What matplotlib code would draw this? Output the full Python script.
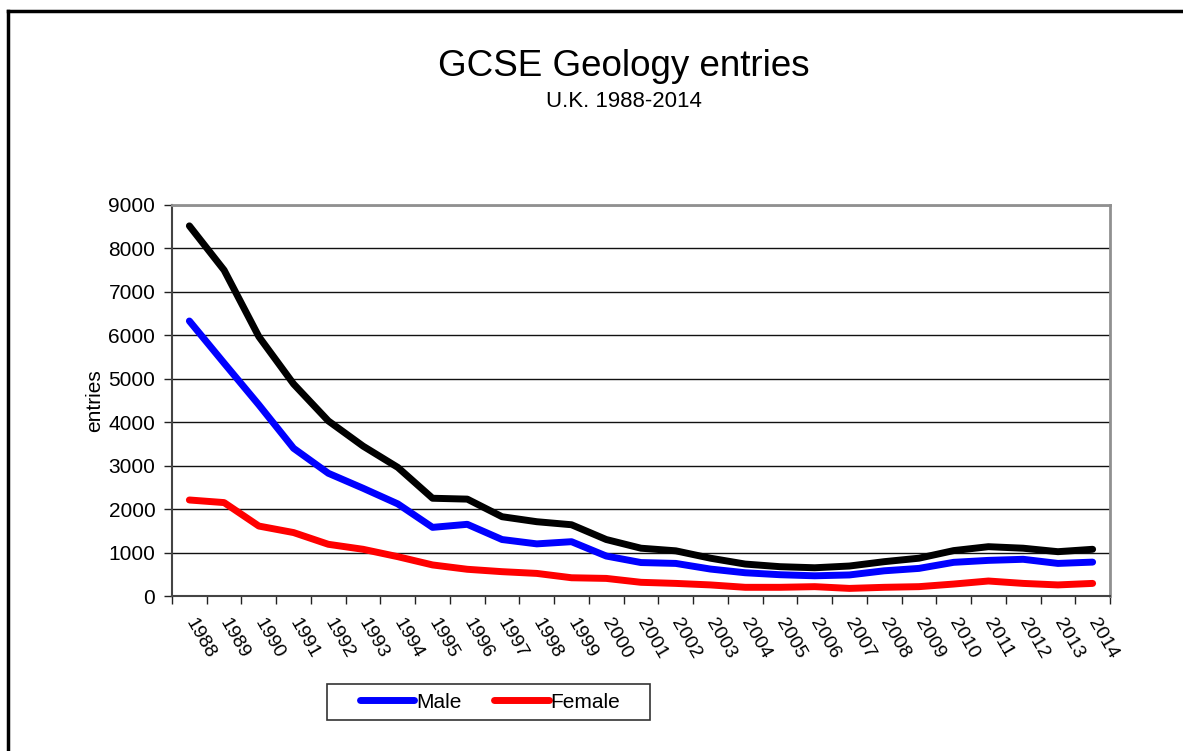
import matplotlib.pyplot as plt
import matplotlib.transforms as mtransforms
from matplotlib.lines import Line2D
from matplotlib.patches import Rectangle

plt.rcParams['font.family'] = ['Liberation Sans', 'DejaVu Sans']

years = [str(y) for y in range(1988, 2015)]

# entries
male = [6330, 5360, 4400, 3400, 2825, 2480, 2120, 1580, 1650, 1300, 1200, 1250, 920,
        770, 750, 620, 535, 490, 465, 485, 580, 635, 775, 820, 845, 750, 780]
female = [2210, 2150, 1610, 1460, 1190, 1075, 905, 715, 615, 560, 520, 420, 405,
          315, 290, 255, 200, 200, 215, 175, 200, 215, 275, 345, 290, 255, 290]
total = [8520, 7500, 5970, 4880, 4030, 3450, 2960, 2250, 2230, 1825, 1710, 1640, 1300,
         1100, 1040, 870, 735, 675, 650, 690, 790, 870, 1045, 1135, 1100, 1020, 1075]

W, H = 1183, 751
fig = plt.figure(figsize=(W / 100, H / 100), dpi=100)
ax = fig.add_axes([172 / W, 1 - 596 / H, (1110 - 172) / W, (596 - 205) / H])

x = list(range(len(years)))
ax.plot(x, total, color='black', linewidth=5, solid_capstyle='round', zorder=3)
male_line, = ax.plot(x, male, color='#0000FF', linewidth=5, solid_capstyle='round', zorder=3)
female_line, = ax.plot(x, female, color='#FF0000', linewidth=5, solid_capstyle='round', zorder=3)

ax.set_xlim(-0.5, len(years) - 0.5)
ax.set_ylim(0, 9000)
ax.set_yticks(range(0, 9001, 1000))
ax.tick_params(axis='y', labelsize=15, length=6, width=1, pad=6, direction='out',
               colors='#222222', labelcolor='black')
ax.yaxis.grid(True, color='#111111', linewidth=1)
ax.set_axisbelow(True)

# category labels at centres, tick marks on boundaries
ax.set_xticks(x)
ax.set_xticklabels(years, rotation=-60, ha='left', va='top', rotation_mode='anchor', fontsize=14)
ax.tick_params(axis='x', which='major', length=0, pad=14)
shift = mtransforms.ScaledTranslation(7 / 100, 0, fig.dpi_scale_trans)
for lab in ax.get_xticklabels():
    lab.set_transform(lab.get_transform() + shift)
ax.set_xticks([i - 0.5 for i in range(len(years) + 1)], minor=True)
ax.tick_params(axis='x', which='minor', length=6, width=1, color='#222222')

for side in ['top', 'right']:
    ax.spines[side].set_color('#909090')
    ax.spines[side].set_linewidth(2)
for side in ['left', 'bottom']:
    ax.spines[side].set_color('#444444')
    ax.spines[side].set_linewidth(1.5)

ax.set_ylabel('entries', fontsize=15, labelpad=3)

fig.text(624 / W, 1 - 76 / H, 'GCSE Geology entries', fontsize=26.5, ha='center', va='baseline')
fig.text(624 / W, 1 - 107 / H, 'U.K. 1988-2014', fontsize=16, ha='center', va='baseline')

leg = ax.legend([male_line, female_line], ['Male', 'Female'], loc='center',
                bbox_to_anchor=(490 / W, 1 - 702 / H), bbox_transform=fig.transFigure,
                ncol=2, fontsize=15, frameon=False, handlelength=2.6,
                handletextpad=0.1, columnspacing=1.6, borderpad=0.3)
fig.add_artist(Rectangle((327 / W, 1 - 720 / H), (650 - 327) / W, 36 / H, fill=False,
                         edgecolor='#333333', linewidth=1.2, transform=fig.transFigure))

# outer frame (top and left edges visible)
fig.add_artist(Line2D([7.5 / W, 1], [1 - 10.5 / H, 1 - 10.5 / H], color='black', linewidth=2.5,
                      transform=fig.transFigure))
fig.add_artist(Line2D([7.5 / W, 7.5 / W], [0, 1 - 10.5 / H], color='black', linewidth=2.5,
                      transform=fig.transFigure))

fig.savefig('out.png', dpi=100)
